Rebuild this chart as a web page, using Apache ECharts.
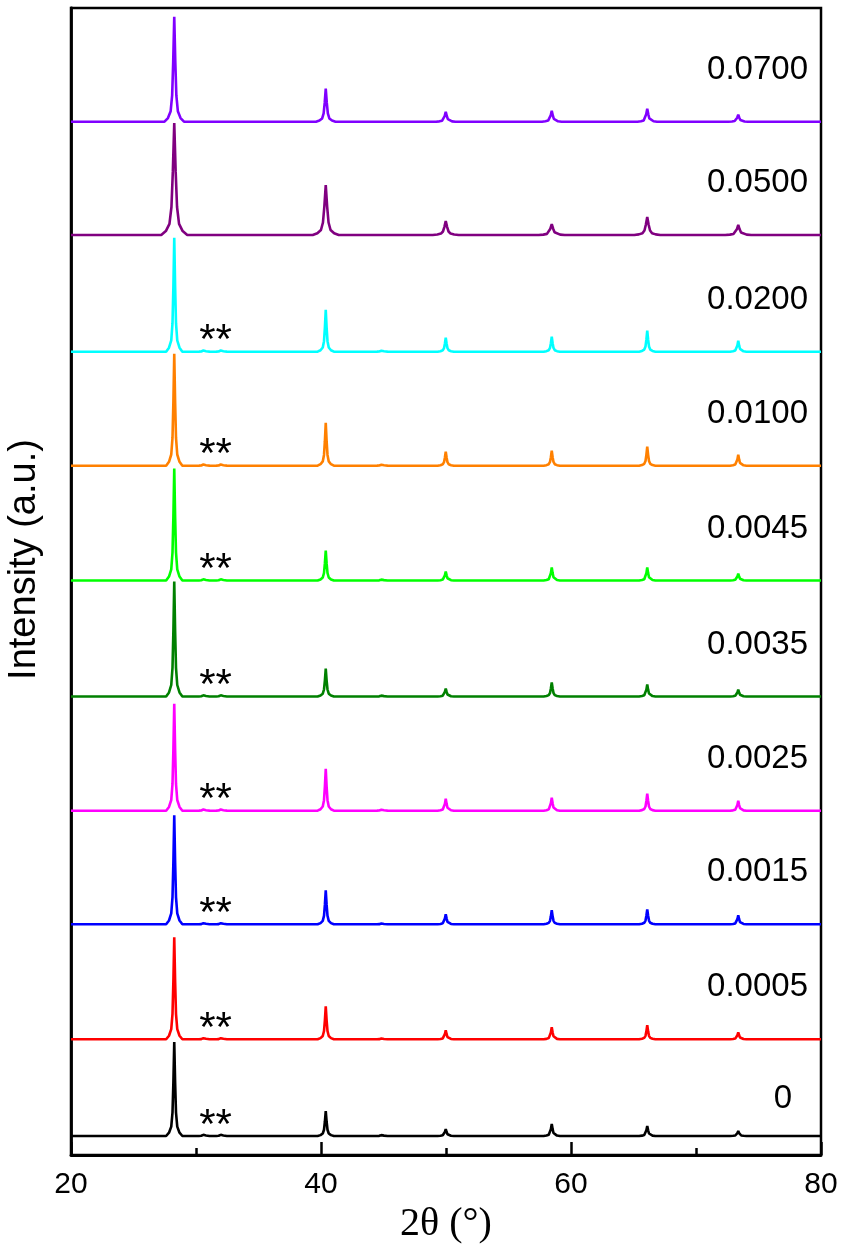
<!DOCTYPE html>
<html><head><meta charset="utf-8">
<script src="https://cdn.jsdelivr.net/npm/echarts/dist/echarts.min.js"></script>
<style>html,body{margin:0;padding:0;background:#fff}#c{width:844px;height:1251px}</style>
</head><body><div id="c"></div>
<script>
// ---- data ----
const samples = ['0', '0.0005', '0.0015', '0.0025', '0.0035', '0.0045', '0.0100', '0.0200', '0.0500', '0.0700'];
const twoTheta = [28.26, 40.38, 49.98, 58.46, 66.10, 73.38];   // main reflections (deg)
const minorTheta = [30.66, 32.05, 44.90];                      // weak impurity reflections (deg)
const offsets = [19, 115.7, 230.7, 344.3, 458.5, 574.5, 689.3, 803.3, 920, 1033.3]; // stacking offsets (a.u.)
const h0 = [94, 25, 7, 12, 10, 5];
const h0005 = [102, 33, 9, 12, 14, 7];
const h0015 = [109, 34, 10, 14, 15, 9];
const h0025 = [107, 42, 12, 13, 17, 10];
const h0035 = [115, 28, 8, 14, 12, 7];
const h0045 = [112, 30, 9, 13, 13, 7];
const h0100 = [112, 43, 14, 15, 19, 11];
const h0200 = [114, 42, 14, 15, 21, 11];
const h0500 = [112, 50, 14, 11, 18, 10];
const h0700 = [105, 33, 10, 11, 13, 7];
const minorWithImp = [2, 2, 1.5];
const minorNone = [0, 0, 0];
const peakWidth = [1, 1, 1, 1, 1, 1, 1, 1, 1.6, 1.2];        // relative peak broadening
// measured normalised line profile of one reflection
const profileDx = [-0.65, -0.42, -0.24, -0.14, -0.07, 0, 0.07, 0.14, 0.24, 0.42, 0.65];
const profileFrac = [0, 0.035, 0.1, 0.25, 0.57, 1, 0.57, 0.25, 0.1, 0.035, 0];

const heights = [h0, h0005, h0015, h0025, h0035, h0045, h0100, h0200, h0500, h0700];
const minorHeights = [minorWithImp, minorWithImp, minorWithImp, minorWithImp, minorWithImp,
  minorWithImp, minorWithImp, minorWithImp, minorNone, minorNone];
const colors = ['#000000', '#ff0000', '#0000ff', '#ff00ff', '#008000', '#00ff00', '#ff8000', '#00ffff', '#800080', '#8000ff'];

function pattern(i) {
  const base = offsets[i], w = peakWidth[i];
  const peaks = [];
  twoTheta.forEach((x, k) => peaks.push([x, heights[i][k]]));
  minorTheta.forEach((x, k) => { if (minorHeights[i][k] > 0) peaks.push([x, minorHeights[i][k]]); });
  peaks.sort((a, b) => a[0] - b[0]);
  const pts = [[20, base]];
  peaks.forEach(([x, h]) => profileDx.forEach((dx, j) => pts.push([x + dx * w, base + h * profileFrac[j]])));
  pts.push([80, base]);
  return pts;
}

const font = "'Liberation Sans', Arial, sans-serif";
const labelLift = 52, zeroLift = 37, labelX = 78.96, zeroLabelX = 77.68;
const starX = 31.56, starLift = 10;

const series = samples.map((s, i) => ({
  name: s, type: 'line', data: pattern(i), showSymbol: false, symbol: 'none',
  lineStyle: { color: colors[i], width: 2.6 }, animation: false, z: 2 + i
}));
series.push({
  type: 'scatter', symbolSize: 0, silent: true, animation: false, z: 20,
  itemStyle: { opacity: 1 },
  data: samples.map((s, i) => [i === 0 ? zeroLabelX : labelX, offsets[i] + (i === 0 ? zeroLift : labelLift), s]),
  label: { show: true, position: 'left', distance: 0, formatter: p => p.value[2], opacity: 1,
    textBorderWidth: 0, color: '#000', fontSize: 33, fontFamily: font }
});
series.push({
  type: 'scatter', symbolSize: 0, silent: true, animation: false, z: 20,
  itemStyle: { opacity: 1 },
  data: samples.slice(0, 8).map((s, i) => [starX, offsets[i] + starLift, '**']),
  label: { show: true, position: 'inside', formatter: p => p.value[2], opacity: 1,
    textBorderWidth: 0, color: '#000', fontSize: 42, fontFamily: font }
});

const chart = echarts.init(document.getElementById('c'), null, { renderer: 'canvas' });
chart.setOption({
  animation: false,
  backgroundColor: '#fff',
  grid: { left: 71, right: 23, top: 8, bottom: 96, show: true, borderColor: '#000', borderWidth: 2.5,
    containLabel: false, outerBoundsMode: 'none' },
  xAxis: {
    type: 'value', min: 20, max: 80, interval: 20,
    axisLine: { lineStyle: { color: '#000', width: 2.8 } },
    axisTick: { inside: true, length: 13, lineStyle: { color: '#000', width: 2.5 } },
    minorTick: { show: true, splitNumber: 2, length: 7, lineStyle: { color: '#000', width: 2.5 } },
    splitLine: { show: false },
    axisLabel: { color: '#000', fontSize: 30, fontFamily: font, margin: 15 },
    name: '2θ (°)', nameLocation: 'middle', nameGap: 48,
    nameTextStyle: { color: '#000', fontSize: 40, fontFamily: "'Liberation Serif', 'Times New Roman', serif" }
  },
  yAxis: {
    type: 'value', min: 0, max: 1147,
    axisLine: { show: true, lineStyle: { color: '#000', width: 2.8 } },
    axisTick: { show: false }, axisLabel: { show: false }, splitLine: { show: false },
    name: 'Intensity (a.u.)', nameLocation: 'middle', nameGap: 27,
    nameTextStyle: { color: '#000', fontSize: 38, fontFamily: font, padding: [0, 0, 0, 44] }
  },
  series
});
</script></body></html>
